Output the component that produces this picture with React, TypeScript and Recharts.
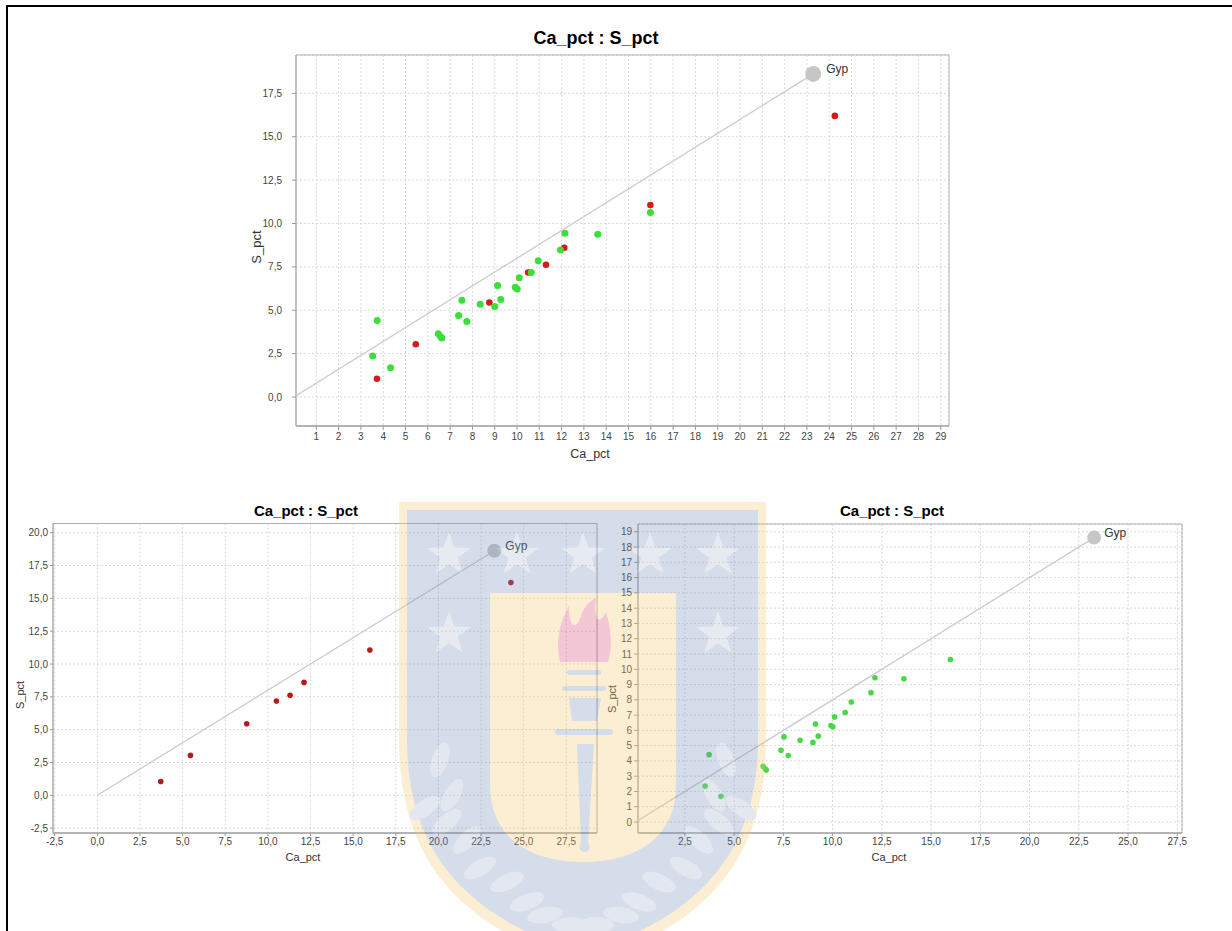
import React from 'react';
import { ScatterChart, Scatter, XAxis, YAxis, CartesianGrid, ReferenceArea } from 'recharts';

// ---------- data ----------
const greenSamples = [
  { ca: 3.53, s: 2.36 },
  { ca: 3.73, s: 4.41 },
  { ca: 4.33, s: 1.68 },
  { ca: 6.47, s: 3.65 },
  { ca: 6.58, s: 3.47 },
  { ca: 6.63, s: 3.4 },
  { ca: 7.38, s: 4.7 },
  { ca: 7.53, s: 5.57 },
  { ca: 7.75, s: 4.35 },
  { ca: 8.35, s: 5.35 },
  { ca: 9.0, s: 5.21 },
  { ca: 9.13, s: 6.42 },
  { ca: 9.27, s: 5.62 },
  { ca: 9.92, s: 6.32 },
  { ca: 10.01, s: 6.23 },
  { ca: 10.1, s: 6.88 },
  { ca: 10.64, s: 7.17 },
  { ca: 10.95, s: 7.86 },
  { ca: 11.95, s: 8.47 },
  { ca: 12.15, s: 9.44 },
  { ca: 13.62, s: 9.38 },
  { ca: 15.98, s: 10.64 },
];

const redSamples = [
  { ca: 3.72, s: 1.05 },
  { ca: 5.46, s: 3.04 },
  { ca: 8.76, s: 5.45 },
  { ca: 10.5, s: 7.18 },
  { ca: 11.3, s: 7.62 },
  { ca: 12.12, s: 8.6 },
  { ca: 15.98, s: 11.07 },
  { ca: 24.25, s: 16.2 },
];

const gypsumLine = [
  { ca: 0, s: 0 },
  { ca: 23.28, s: 18.62 },
];
const gypsumPoint = [{ ca: 23.28, s: 18.62, name: 'Gyp' }];

const TITLE = 'Ca_pct : S_pct';
const X_LABEL = 'Ca_pct';
const Y_LABEL = 'S_pct';

const topXTicks = [1, 2, 3, 4, 5, 6, 7, 8, 9, 10, 11, 12, 13, 14, 15, 16, 17, 18, 19, 20, 21, 22, 23, 24, 25, 26, 27, 28, 29];
const topYTicks = [0, 2.5, 5, 7.5, 10, 12.5, 15, 17.5];
const leftXTicks = [-2.5, 0, 2.5, 5, 7.5, 10, 12.5, 15, 17.5, 20, 22.5, 25, 27.5];
const leftYTicks = [-2.5, 0, 2.5, 5, 7.5, 10, 12.5, 15, 17.5, 20];
const rightXTicks = [2.5, 5, 7.5, 10, 12.5, 15, 17.5, 20, 22.5, 25, 27.5];
const rightYTicks = [0, 1, 2, 3, 4, 5, 6, 7, 8, 9, 10, 11, 12, 13, 14, 15, 16, 17, 18, 19];

// ---------- helpers ----------
const FONT = '"Liberation Sans", Arial, Helvetica, sans-serif';
const fmt1 = (v: number) => v.toFixed(1).replace('.', ',');
const fmt0 = (v: number) => String(v);

type Series = { data: { ca: number; s: number }[]; color: string; r: number };

type PanelProps = {
  left: number;
  top: number;
  width: number;
  height: number;
  margin: { top: number; right: number; bottom: number; left: number };
  yAxisWidth: number;
  xAxisHeight: number;
  xDomain: [number, number];
  yDomain: [number, number];
  xTicks: number[];
  yTicks: number[];
  xFmt: (v: number) => string;
  yFmt: (v: number) => string;
  series: Series[];
  gypR: number;
  gypDx: number;
  tickFont: number;
  xTickSize: number;
  xTickMargin: number;
  yTickSize: number;
  yTickMargin: number;
};

function Panel(p: PanelProps) {
  const tickStyle = { fontSize: p.tickFont, fill: '#444', fontFamily: FONT };
  return (
    <div style={{ position: 'absolute', left: p.left, top: p.top }}>
      <ScatterChart width={p.width} height={p.height} margin={p.margin}>
        <CartesianGrid stroke="#d9d9d9" strokeDasharray="2 2" />
        <ReferenceArea
          x1={p.xDomain[0]}
          x2={p.xDomain[1]}
          y1={p.yDomain[0]}
          y2={p.yDomain[1]}
          fill="none"
          stroke="#b0b0b0"
          strokeWidth={1}
          ifOverflow="visible"
        />
        <XAxis
          type="number"
          dataKey="ca"
          domain={p.xDomain}
          ticks={p.xTicks}
          interval={0}
          allowDataOverflow
          height={p.xAxisHeight}
          tickFormatter={p.xFmt}
          tick={tickStyle}
          tickSize={p.xTickSize}
          tickMargin={p.xTickMargin}
          tickLine={{ stroke: '#999' }}
          axisLine={{ stroke: '#aaa', strokeWidth: 1.5 }}
        />
        <YAxis
          type="number"
          dataKey="s"
          domain={p.yDomain}
          ticks={p.yTicks}
          interval={0}
          allowDataOverflow
          width={p.yAxisWidth}
          tickFormatter={p.yFmt}
          tick={tickStyle}
          tickSize={p.yTickSize}
          tickMargin={p.yTickMargin}
          tickLine={{ stroke: '#999' }}
          axisLine={{ stroke: '#b0b0b0' }}
        />
        <Scatter
          data={gypsumLine}
          line={{ stroke: '#cbcbcb', strokeWidth: 1.3 }}
          shape={() => <g />}
          isAnimationActive={false}
        />
        <Scatter
          data={gypsumPoint}
          isAnimationActive={false}
          shape={(props: any) => (
            <g>
              <circle cx={props.cx} cy={props.cy} r={p.gypR} fill="#c6c6c6" />
              <text
                x={props.cx + p.gypDx}
                y={props.cy - 4}
                dominantBaseline="middle"
                fontSize={p.tickFont + 2}
                fontFamily={FONT}
                fill="#333"
              >
                {props.payload && props.payload.name ? props.payload.name : 'Gyp'}
              </text>
            </g>
          )}
        />
        {p.series.map((s, i) => (
          <Scatter
            key={i}
            data={s.data}
            isAnimationActive={false}
            shape={(props: any) => <circle cx={props.cx} cy={props.cy} r={s.r} fill={s.color} />}
          />
        ))}
      </ScatterChart>
    </div>
  );
}

function TextAt(props: { x: number; y: number; size: number; bold?: boolean; rotate?: boolean; children: string; color?: string }) {
  return (
    <div
      style={{
        position: 'absolute',
        left: props.x,
        top: props.y,
        transform: `translate(-50%, -50%)${props.rotate ? ' rotate(-90deg)' : ''}`,
        fontFamily: FONT,
        fontSize: props.size,
        fontWeight: props.bold ? 700 : 400,
        color: props.color || '#333',
        whiteSpace: 'nowrap',
        lineHeight: 1,
      }}
    >
      {props.children}
    </div>
  );
}

function starPoints(cx: number, cy: number, R: number) {
  const r = R * 0.4;
  const pts: string[] = [];
  for (let i = 0; i < 10; i++) {
    const a = -Math.PI / 2 + (i * Math.PI) / 5;
    const rad = i % 2 === 0 ? R : r;
    pts.push(`${(cx + rad * Math.cos(a)).toFixed(1)},${(cy + rad * Math.sin(a)).toFixed(1)}`);
  }
  return pts.join(' ');
}

const leafSpots = [
  [440, 760, -70], [452, 795, -60], [425, 808, -35], [447, 822, -40], [467, 840, -45],
  [480, 868, -30], [507, 882, -25], [527, 902, -20], [545, 915, -10], [570, 925, 0],
];

function Watermark() {
  const gold = '#f8c86c';
  const blue = '#768ebb';
  const starColor = '#b2bcd0';
  const leafColor = '#a5b3cb';
  return (
    <svg width={1232} height={931} style={{ position: 'absolute', left: 0, top: 0, pointerEvents: 'none' }}>
      <g opacity={0.3}>
        <path d="M399,502 H766 V740 C766,870 695,930 582.5,965 C470,930 399,870 399,740 Z" fill={gold} />
        <path d="M407,510 H758 V740 C758,862 688,920 582.5,954 C477,920 407,862 407,740 Z" fill={blue} />
        <polygon points={starPoints(449, 555, 23)} fill={starColor} />
        <polygon points={starPoints(517, 555, 23)} fill={starColor} />
        <polygon points={starPoints(583, 555, 23)} fill={starColor} />
        <polygon points={starPoints(650, 555, 23)} fill={starColor} />
        <polygon points={starPoints(718, 555, 23)} fill={starColor} />
        <polygon points={starPoints(449, 634, 23)} fill={starColor} />
        <polygon points={starPoints(718, 634, 23)} fill={starColor} />
        {leafSpots.map(([x, y, a], i) => (
          <g key={i}>
            <ellipse cx={x} cy={y} rx={18} ry={8} transform={`rotate(${a} ${x} ${y})`} fill={leafColor} />
            <ellipse cx={1166 - x} cy={y} rx={18} ry={8} transform={`rotate(${-a} ${1166 - x} ${y})`} fill={leafColor} />
          </g>
        ))}
        <path d="M490,593 H676 V785 C676,835 640,862 583,862 C526,862 490,835 490,785 Z" fill={gold} />
        <path
          d="M560,662 C555,640 560,622 569,606 C569,626 575,632 581,616 C584,606 590,601 596,598 C593,616 598,628 606,612 C611,628 613,648 608,662 Z"
          fill="#de487a"
        />
        <rect x={567} y={670} width={34} height={5} rx={2.5} fill={blue} />
        <rect x={562} y={686} width={44} height={5} rx={2.5} fill={blue} />
        <path d="M569,698 H601 L597,721 H572 Z" fill={blue} />
        <rect x={555} y={729} width={58} height={6} rx={3} fill={blue} />
        <path d="M577,744 H594 L588,843 H581 Z" fill={blue} />
        <circle cx={584.5} cy={847} r={5} fill={blue} />
      </g>
    </svg>
  );
}

export default function App() {
  return (
    <div
      style={{
        position: 'absolute',
        left: 0,
        top: 0,
        width: 1232,
        height: 931,
        overflow: 'hidden',
        background: '#fff',
      }}
    >
      <div
        style={{
          position: 'absolute',
          left: 6,
          top: 5,
          width: 1300,
          height: 1000,
          borderTop: '2px solid #000',
          borderLeft: '2px solid #000',
        }}
      />

      {/* top chart */}
      <Panel
        left={240}
        top={40}
        width={730}
        height={430}
        margin={{ top: 15, right: 21, bottom: 14, left: 6 }}
        yAxisWidth={50}
        xAxisHeight={30}
        xDomain={[0.09, 29.37]}
        yDomain={[-1.67, 19.71]}
        xTicks={topXTicks}
        yTicks={topYTicks}
        xFmt={fmt0}
        yFmt={fmt1}
        series={[
          { data: redSamples, color: '#d41a1a', r: 3.3 },
          { data: greenSamples, color: '#38e038', r: 3.5 },
        ]}
        gypR={8}
        gypDx={13}
        tickFont={10}
        xTickSize={4}
        xTickMargin={3}
        yTickSize={4}
        yTickMargin={10}
      />
      <TextAt x={596} y={38} size={18} bold color="#000">{TITLE}</TextAt>
      <TextAt x={256} y={247} size={13} rotate>{Y_LABEL}</TextAt>
      <TextAt x={590} y={454} size={12.5}>{X_LABEL}</TextAt>

      {/* bottom-left chart */}
      <Panel
        left={10}
        top={500}
        width={600}
        height={370}
        margin={{ top: 23.5, right: 13, bottom: 12, left: 3 }}
        yAxisWidth={40}
        xAxisHeight={25}
        xDomain={[-2.6, 29.3]}
        yDomain={[-2.87, 20.7]}
        xTicks={leftXTicks}
        yTicks={leftYTicks}
        xFmt={fmt1}
        yFmt={fmt1}
        series={[{ data: redSamples, color: '#b41c1c', r: 2.8 }]}
        gypR={7}
        gypDx={11}
        tickFont={10}
        xTickSize={3}
        xTickMargin={2}
        yTickSize={3}
        yTickMargin={2}
      />
      <TextAt x={306} y={510} size={15} bold color="#000">{TITLE}</TextAt>
      <TextAt x={20} y={695} size={11} rotate>{Y_LABEL}</TextAt>
      <TextAt x={303} y={857} size={11}>{X_LABEL}</TextAt>

      {/* bottom-right chart */}
      <Panel
        left={615}
        top={500}
        width={590}
        height={370}
        margin={{ top: 24, right: 23, bottom: 12, left: 3 }}
        yAxisWidth={20}
        xAxisHeight={25}
        xDomain={[0.12, 27.74]}
        yDomain={[-0.72, 19.51]}
        xTicks={rightXTicks}
        yTicks={rightYTicks}
        xFmt={fmt1}
        yFmt={fmt0}
        series={[{ data: greenSamples, color: '#46d846', r: 2.8 }]}
        gypR={7}
        gypDx={10}
        tickFont={10}
        xTickSize={3}
        xTickMargin={2}
        yTickSize={4}
        yTickMargin={2}
      />
      <TextAt x={892} y={510} size={15} bold color="#000">{TITLE}</TextAt>
      <TextAt x={612} y={699} size={11} rotate>{Y_LABEL}</TextAt>
      <TextAt x={889} y={857} size={11}>{X_LABEL}</TextAt>

      <Watermark />
    </div>
  );
}
